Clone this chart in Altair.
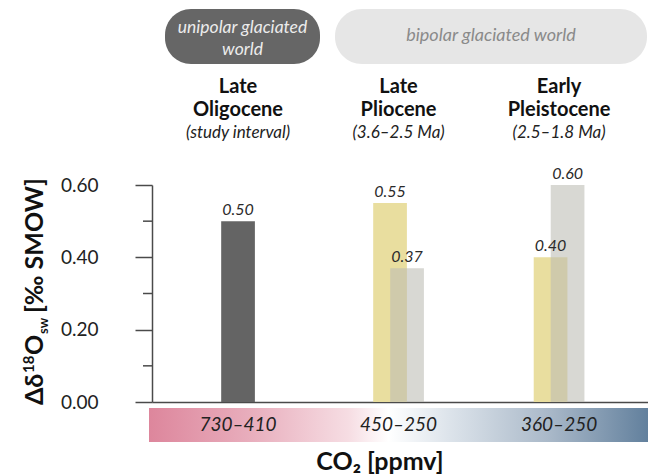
import altair as alt
import pandas as pd

# ---------------- data ----------------
header_top = ["Late", "Late", "Early"]
header_bottom = ["Oligocene", "Pliocene", "Pleistocene"]
intervals = ["(study interval)", "(3.6–2.5 Ma)", "(2.5–1.8 Ma)"]
co2_ranges = ["730–410", "450–250", "360–250"]

bar_period = [0, 1, 1, 2, 2]
bar_series = ["study", "first", "second", "first", "second"]
bar_values = [0.50, 0.55, 0.37, 0.40, 0.60]

major_ticks = [0.0, 0.2, 0.4, 0.6]
minor_ticks = [0.1, 0.3, 0.5]

# ---------------- styling ----------------
FONT = "Lato"
AX = "#4a4a4a"
series_offset = {"study": 0.0, "first": -0.053, "second": 0.053}
half_w = 0.105

bars = pd.DataFrame({"period": bar_period, "series": bar_series, "value": bar_values})
bars["xc"] = bars["period"] + bars["series"].map(series_offset)
bars["x0"] = bars["xc"] - half_w
bars["x1"] = bars["xc"] + half_w

groups = pd.DataFrame({"pos": [0, 1, 2], "top": header_top, "bottom": header_bottom,
                       "interval": intervals, "co2": co2_ranges})
minor = pd.DataFrame({"v": minor_ticks})
one = pd.DataFrame({"a": [0]})

xs = alt.Scale(domain=[-0.536, 2.554], nice=False, zero=False)
ys = alt.Scale(domain=[0, 0.6], nice=False)
xaxis = alt.Axis(labels=False, ticks=False, title=None, grid=False,
                 domainColor=AX, domainWidth=1.5)
yaxis = alt.Axis(values=major_ticks, format=".2f", tickSize=17, labelPadding=37,
                 labelFont=FONT, labelFontSize=19, labelColor="#222", grid=False,
                 domainColor=AX, domainWidth=1.5, tickColor=AX, tickWidth=1.5, title=None)

bar_layer = alt.Chart(bars).mark_bar().encode(
    x=alt.X("x0:Q", scale=xs, axis=xaxis),
    x2="x1:Q",
    y=alt.Y("value:Q", scale=ys, axis=yaxis),
    y2=alt.datum(0),
    color=alt.Color("series:N", legend=None,
                    scale=alt.Scale(domain=["study", "first", "second"],
                                    range=["#646464", "#e9de9f", "rgba(188,188,180,0.58)"])),
)

value_labels = alt.Chart(bars).mark_text(
    font=FONT, fontSize=16, fontStyle="italic", color="#2a2a2a", dy=-6, baseline="alphabetic"
).encode(
    x=alt.X("xc:Q", scale=xs, axis=xaxis),
    y=alt.Y("value:Q", scale=ys, axis=yaxis),
    text=alt.Text("value:Q", format=".2f"),
)

minor_layer = alt.Chart(minor).mark_rule(color=AX, strokeWidth=1.5).encode(
    y=alt.Y("v:Q", scale=ys, axis=yaxis),
    x=alt.value(-9), x2=alt.value(0),
)

grad = alt.Gradient(
    gradient="linear", x1=0, x2=1, y1=0, y2=0,
    stops=[
        alt.GradientStop(color="#dd869c", offset=0),
        alt.GradientStop(color="#e8adbc", offset=0.2),
        alt.GradientStop(color="#f6dde3", offset=0.4),
        alt.GradientStop(color="#ffffff", offset=0.48),
        alt.GradientStop(color="#dde4eb", offset=0.6),
        alt.GradientStop(color="#aab9c9", offset=0.8),
        alt.GradientStop(color="#62809d", offset=1),
    ],
)
strip = alt.Chart(one).mark_rect(fill=grad).encode(
    x=alt.value(-3), x2=alt.value(496), y=alt.value(223), y2=alt.value(257)
)

co2_labels = alt.Chart(groups).mark_text(
    font=FONT, fontSize=19, fontStyle="italic", color="#222", baseline="middle"
).encode(x=alt.X("pos:Q", scale=xs, axis=xaxis), y=alt.value(240), text="co2:N")

head1 = alt.Chart(groups).mark_text(
    font=FONT, fontSize=20, fontWeight="bold", color="#111", baseline="middle"
).encode(x=alt.X("pos:Q", scale=xs, axis=xaxis), y=alt.value(-98), text="top:N")
head2 = alt.Chart(groups).mark_text(
    font=FONT, fontSize=20, fontWeight="bold", color="#111", baseline="middle"
).encode(x=alt.X("pos:Q", scale=xs, axis=xaxis), y=alt.value(-75), text="bottom:N")
head3 = alt.Chart(groups).mark_text(
    font=FONT, fontSize=17, fontStyle="italic", color="#222", baseline="middle"
).encode(x=alt.X("pos:Q", scale=xs, axis=xaxis), y=alt.value(-52), text="interval:N")


def pill(x0, x1, y0, y1, color, r):
    return alt.Chart(one).mark_rect(fill=color, cornerRadius=r).encode(
        x=alt.value(x0), x2=alt.value(x1), y=alt.value(y0), y2=alt.value(y1))


def txt(s, x, y, size, color="#111", weight="normal", style="normal",
        angle=0, align="center", baseline="middle"):
    return alt.Chart(one).mark_text(
        text=s, font=FONT, fontSize=size, color=color, fontWeight=weight,
        fontStyle=style, angle=angle, align=align, baseline=baseline
    ).encode(x=alt.value(x), y=alt.value(y))


pill_dark = pill(13, 168, -176, -121, "#666666", 26)
pill_light = pill(183, 495, -176, -121, "#e6e6e6", 27)
t_uni1 = txt("unipolar glaciated", 90.5, -157, 17.5, color="#ececec", style="italic")
t_uni2 = txt("world", 90.5, -135, 17.5, color="#ececec", style="italic")
t_bi = txt("bipolar glaciated world", 339, -149, 18, color="#8a8a8a", style="italic")

# y-axis title built from pieces (rotated, reading upwards)
R = dict(weight="bold", angle=270, align="left", baseline="alphabetic")
ty1 = txt("Δδ", -109, 220, 25, **R)
ty2 = txt("18", -118, 188, 15, **R)
ty3 = txt("O", -109, 170, 25, **R)
ty4 = txt("sw", -104, 149, 13, **R)
ty5 = txt("[‰ SMOW]", -109, 128, 25, **R)

co2_title = txt("CO₂ [ppmv]", 228, 277, 25, weight="bold")

chart = alt.layer(
    pill_dark, pill_light, t_uni1, t_uni2, t_bi,
    head1, head2, head3,
    strip, co2_labels,
    bar_layer, value_labels, minor_layer,
    ty1, ty2, ty3, ty4, ty5, co2_title,
).properties(
    width=496, height=217,
    autosize=alt.AutoSizeParams(type="none"),
    padding={"left": 152, "top": 185, "right": 0, "bottom": 74},
    background="white",
).configure_view(stroke=None)

chart.save("out.html", embed_options={"renderer": "svg", "actions": False})
